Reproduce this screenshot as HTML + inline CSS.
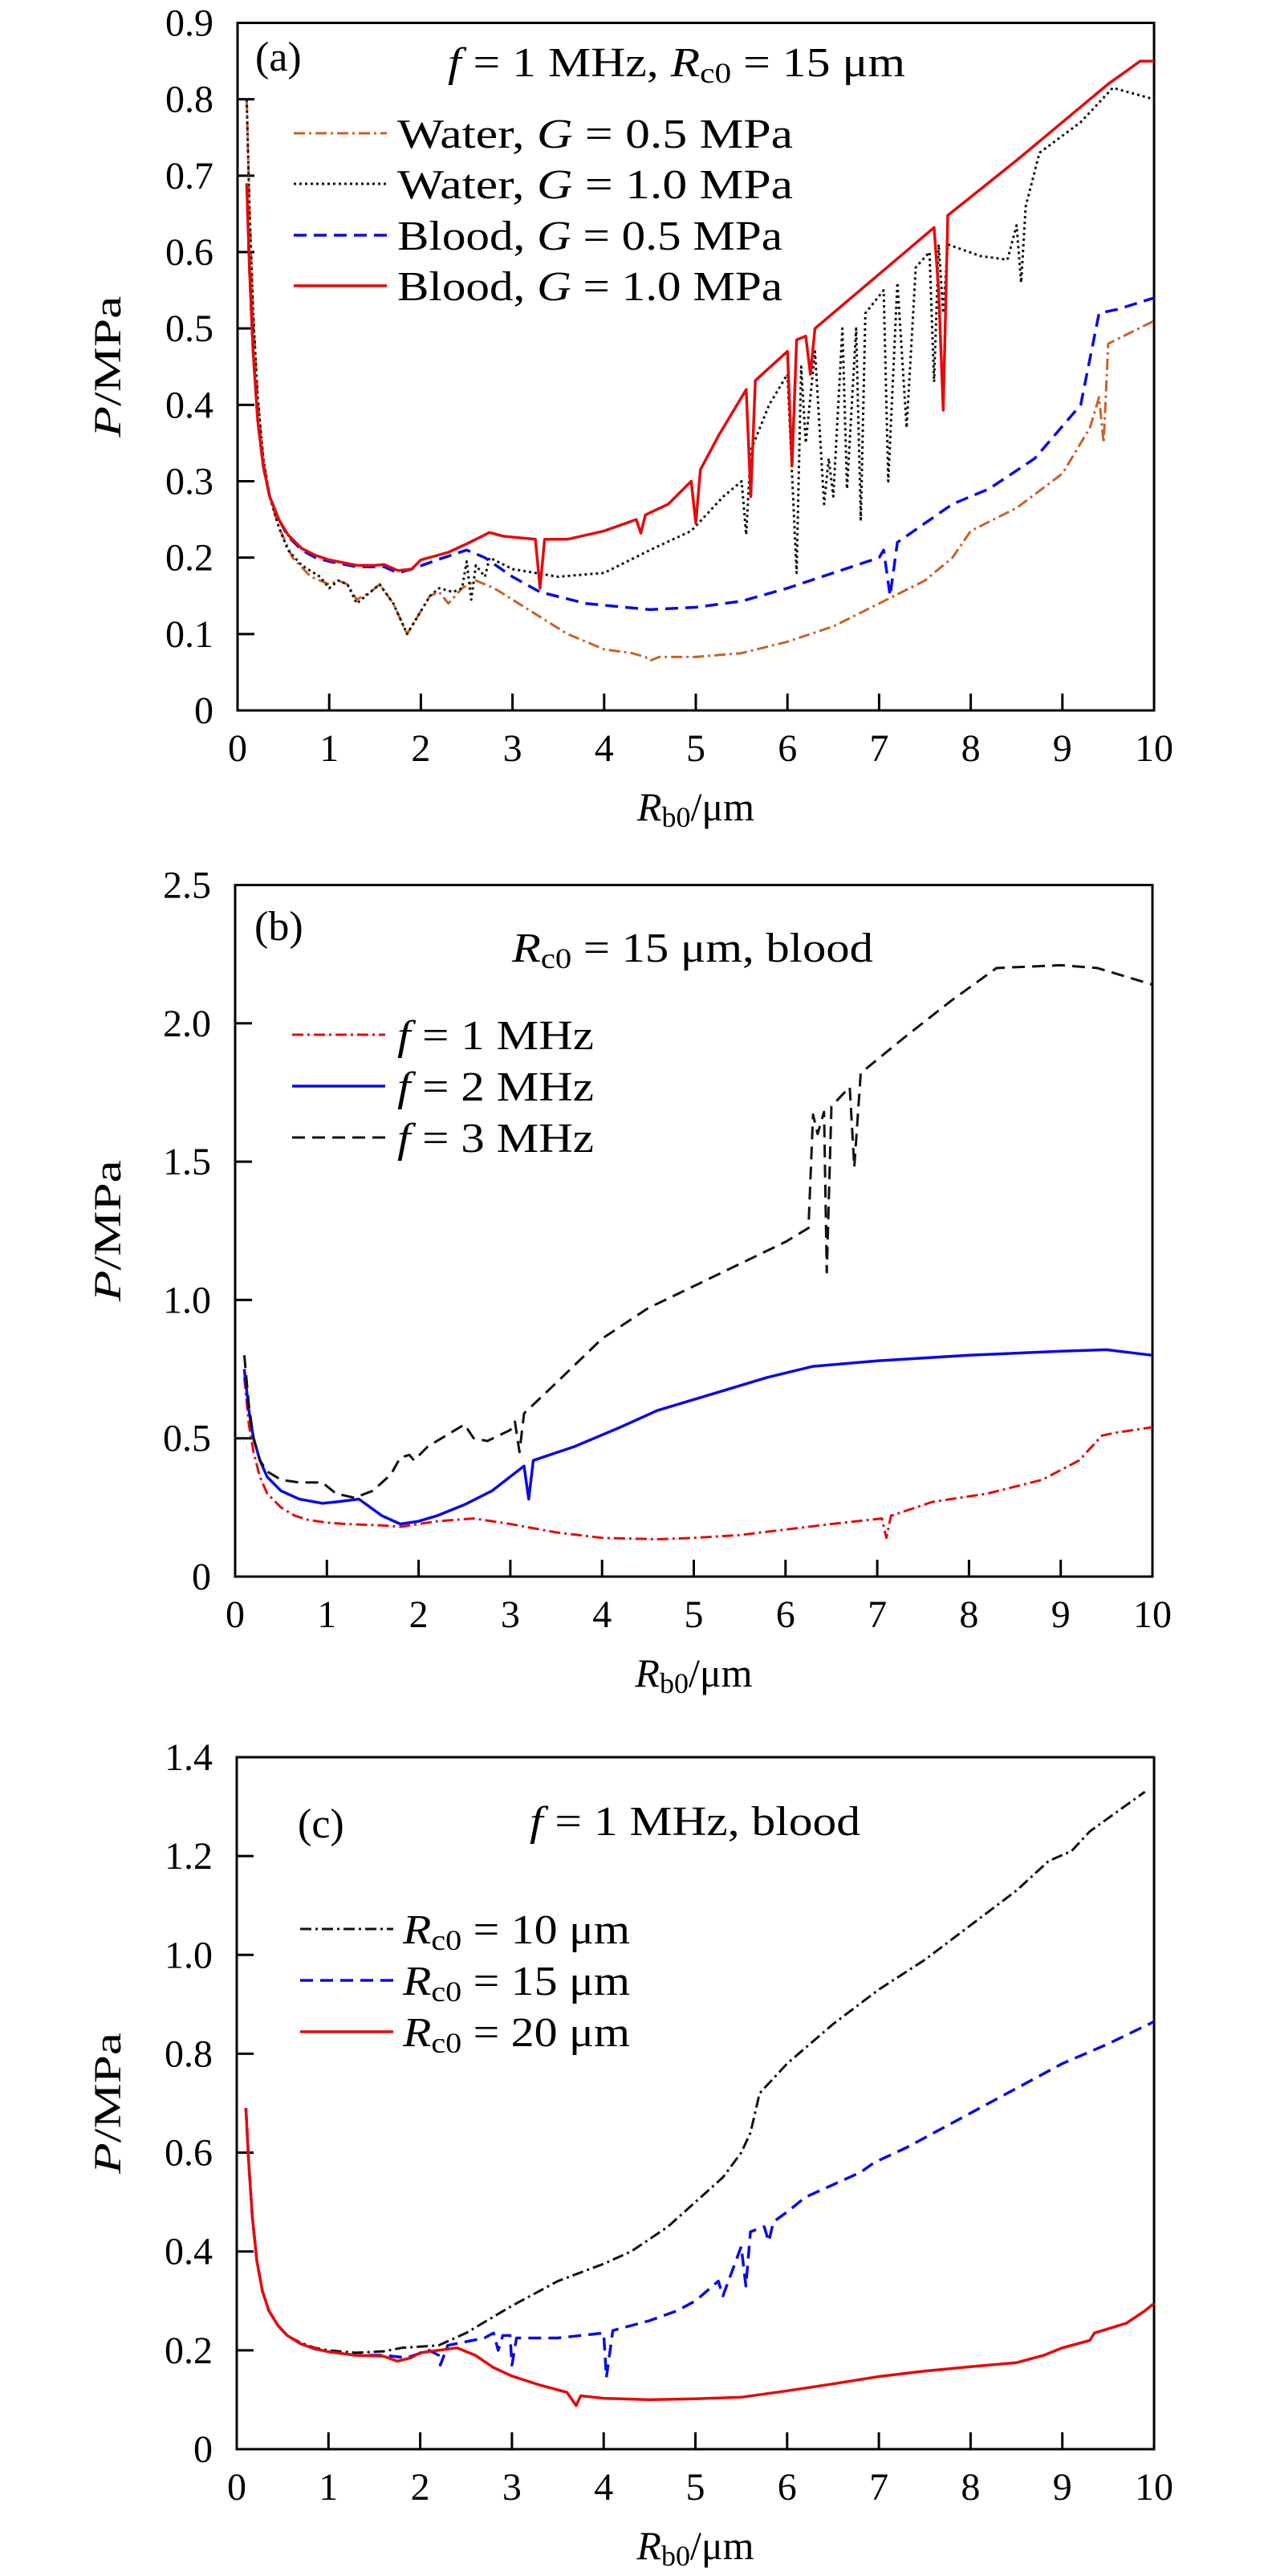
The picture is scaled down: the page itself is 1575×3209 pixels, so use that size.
<!DOCTYPE html>
<html><head><meta charset="utf-8"><style>
html,body{margin:0;padding:0;background:#fff}
svg{display:block}
text{font-family:"Liberation Serif",serif;fill:#000}
</style></head><body>
<svg id="fig" width="1575" height="3209" viewBox="0 0 1575 3209" xmlns="http://www.w3.org/2000/svg">
<rect width="1575" height="3209" fill="#fff"/>
<g id="pa"></g>
<g id="pb"></g>
<g id="pc"></g>
</svg>
<script>
// ---- shared tick data ----
const xTicks=[0,1,2,3,4,5,6,7,8,9,10];
// ---- panel (a) data ----
const aYTicks=[0,0.1,0.2,0.3,0.4,0.5,0.6,0.7,0.8,0.9];
const aYTickLabels=["0","0.1","0.2","0.3","0.4","0.5","0.6","0.7","0.8","0.9"];
const aWater05X=[0.1,0.13,0.17,0.22,0.28,0.35,0.45,0.6,0.8,1.0,1.1,1.2,1.3,1.45,1.55,1.7,1.85,1.95,2.1,2.2,2.3,2.45,2.6,2.8,3.2,3.6,4.0,4.3,4.45,4.5,4.6,5.0,5.5,6.0,6.5,7.0,7.5,7.8,8.0,8.5,9.0,9.3,9.4,9.45,9.5,10];
const aWater05Y=[0.8,0.66,0.52,0.41,0.33,0.28,0.24,0.2,0.175,0.165,0.17,0.165,0.145,0.155,0.165,0.14,0.1,0.12,0.15,0.155,0.14,0.16,0.17,0.16,0.13,0.1,0.08,0.075,0.07,0.065,0.07,0.07,0.075,0.09,0.11,0.14,0.17,0.2,0.235,0.265,0.31,0.37,0.41,0.35,0.48,0.51];
const aWater10X=[0.1,0.13,0.17,0.22,0.28,0.35,0.45,0.55,0.7,0.9,1.0,1.1,1.2,1.3,1.45,1.55,1.7,1.85,1.95,2.1,2.2,2.35,2.45,2.5,2.55,2.6,2.7,2.75,3.0,3.5,4.0,4.5,4.95,5.3,5.5,5.55,5.6,5.8,6.0,6.1,6.15,6.2,6.3,6.4,6.45,6.5,6.6,6.65,6.75,6.8,6.85,7.05,7.1,7.2,7.3,7.4,7.55,7.6,7.65,7.7,7.75,8.1,8.4,8.5,8.55,8.6,8.75,9.2,9.55,10];
const aWater10Y=[0.8,0.66,0.52,0.41,0.33,0.28,0.24,0.21,0.19,0.175,0.16,0.17,0.165,0.14,0.155,0.165,0.14,0.1,0.12,0.15,0.16,0.155,0.16,0.195,0.145,0.19,0.175,0.2,0.185,0.175,0.18,0.21,0.235,0.28,0.3,0.23,0.34,0.4,0.44,0.18,0.45,0.35,0.47,0.27,0.33,0.28,0.5,0.29,0.5,0.25,0.52,0.55,0.3,0.56,0.37,0.58,0.6,0.43,0.61,0.52,0.61,0.595,0.59,0.635,0.56,0.66,0.73,0.77,0.815,0.8];
const aBlood05X=[0.1,0.13,0.17,0.22,0.28,0.35,0.45,0.55,0.7,0.85,1.0,1.3,1.6,1.75,1.9,2.2,2.5,2.7,3.0,3.3,3.8,4.5,5.0,5.5,6.0,6.5,7.0,7.05,7.12,7.2,7.5,7.8,8.2,8.7,9.2,9.4,9.6,10];
const aBlood05Y=[0.69,0.58,0.47,0.38,0.32,0.28,0.25,0.228,0.21,0.2,0.195,0.188,0.188,0.18,0.185,0.198,0.21,0.2,0.175,0.155,0.14,0.132,0.135,0.143,0.16,0.18,0.2,0.21,0.15,0.22,0.245,0.27,0.29,0.33,0.4,0.52,0.525,0.54];
const aBlood10X=[0.1,0.13,0.17,0.22,0.28,0.35,0.45,0.55,0.7,0.85,1.0,1.3,1.5,1.6,1.75,1.9,2.0,2.3,2.5,2.75,2.9,3.25,3.3,3.35,3.6,4.0,4.35,4.4,4.45,4.7,4.95,5.0,5.05,5.25,5.55,5.6,5.65,6.0,6.05,6.1,6.2,6.25,6.3,7.6,7.65,7.7,7.75,8.5,9.0,9.5,9.85,10];
const aBlood10Y=[0.69,0.58,0.47,0.38,0.32,0.28,0.25,0.23,0.212,0.203,0.197,0.19,0.19,0.191,0.183,0.185,0.197,0.207,0.218,0.233,0.228,0.224,0.16,0.224,0.224,0.235,0.25,0.232,0.256,0.27,0.3,0.245,0.315,0.36,0.42,0.28,0.432,0.47,0.32,0.485,0.49,0.44,0.5,0.632,0.55,0.393,0.648,0.72,0.77,0.82,0.85,0.85];
// ---- panel (b) data ----
const bYTicks=[0,0.5,1.0,1.5,2.0,2.5];
const bYTickLabels=["0","0.5","1.0","1.5","2.0","2.5"];
const bF1X=[0.1,0.15,0.2,0.27,0.35,0.5,0.65,0.8,1.0,1.2,1.6,1.8,2.2,2.6,3.0,3.5,4.0,4.6,5.0,5.5,6.0,6.5,7.05,7.1,7.15,7.6,8.2,8.8,9.2,9.45,9.6,10];
const bF1Y=[0.72,0.55,0.45,0.36,0.3,0.25,0.22,0.205,0.195,0.19,0.185,0.18,0.2,0.21,0.19,0.16,0.14,0.135,0.14,0.15,0.17,0.19,0.21,0.14,0.22,0.27,0.3,0.35,0.42,0.51,0.52,0.54];
const bF2X=[0.1,0.15,0.2,0.27,0.35,0.5,0.7,0.95,1.1,1.35,1.6,1.8,2.0,2.2,2.5,2.8,3.15,3.2,3.25,3.7,4.2,4.6,5.2,5.8,6.3,7.0,8.0,9.0,9.5,10];
const bF2Y=[0.75,0.6,0.5,0.42,0.36,0.31,0.28,0.265,0.27,0.28,0.22,0.19,0.2,0.22,0.26,0.31,0.4,0.28,0.42,0.47,0.54,0.6,0.66,0.72,0.76,0.78,0.8,0.815,0.82,0.8];
const bF3X=[0.1,0.15,0.2,0.27,0.35,0.5,0.7,0.95,1.1,1.3,1.5,1.7,1.8,1.9,1.95,2.1,2.5,2.6,2.75,3.0,3.05,3.1,3.15,3.5,4.0,4.5,5.0,5.5,6.0,6.25,6.3,6.35,6.42,6.45,6.5,6.7,6.75,6.82,7.3,7.8,8.3,9.0,9.4,10];
const bF3Y=[0.8,0.62,0.5,0.42,0.38,0.35,0.34,0.34,0.3,0.285,0.31,0.37,0.43,0.44,0.42,0.47,0.55,0.5,0.49,0.53,0.56,0.45,0.59,0.7,0.86,0.97,1.05,1.13,1.21,1.26,1.67,1.6,1.68,1.1,1.7,1.77,1.48,1.82,1.95,2.08,2.2,2.21,2.2,2.14];
// ---- panel (c) data ----
const cYTicks=[0,0.2,0.4,0.6,0.8,1.0,1.2,1.4];
const cYTickLabels=["0","0.2","0.4","0.6","0.8","1.0","1.2","1.4"];
const cR10X=[0.1,0.13,0.17,0.22,0.28,0.35,0.45,0.55,0.7,0.85,1.0,1.3,1.6,1.8,2.2,2.5,3.0,3.5,4.0,4.3,4.7,5.0,5.3,5.5,5.6,5.7,6.0,6.5,7.0,7.5,8.0,8.5,8.85,9.1,9.3,9.6,9.9];
const cR10Y=[0.69,0.58,0.47,0.38,0.32,0.28,0.25,0.23,0.215,0.205,0.2,0.195,0.198,0.205,0.21,0.235,0.29,0.34,0.375,0.4,0.45,0.5,0.55,0.6,0.64,0.72,0.78,0.86,0.93,0.99,1.06,1.13,1.19,1.21,1.25,1.29,1.33];
const cR15X=[0.1,0.13,0.17,0.22,0.28,0.35,0.45,0.55,0.7,0.85,1.0,1.3,1.6,1.85,2.1,2.2,2.22,2.3,2.7,2.8,2.85,2.9,2.98,3.0,3.05,3.5,4.0,4.03,4.1,4.5,4.8,5.0,5.25,5.3,5.5,5.55,5.6,5.75,5.8,5.85,6.0,6.2,6.8,6.95,7.3,8.0,8.5,9.0,9.5,10];
const cR15Y=[0.69,0.58,0.47,0.38,0.32,0.28,0.25,0.23,0.213,0.203,0.197,0.19,0.19,0.185,0.2,0.19,0.17,0.21,0.225,0.235,0.2,0.23,0.23,0.17,0.225,0.225,0.235,0.145,0.24,0.26,0.28,0.3,0.34,0.31,0.41,0.33,0.44,0.45,0.42,0.46,0.48,0.51,0.56,0.58,0.61,0.68,0.73,0.78,0.82,0.865];
const cR20X=[0.1,0.13,0.17,0.22,0.28,0.35,0.45,0.55,0.7,0.85,1.0,1.3,1.6,1.75,1.9,2.0,2.4,2.6,2.8,3.0,3.3,3.6,3.7,3.75,4.0,4.5,5.0,5.5,6.0,6.5,7.0,7.5,8.0,8.5,8.8,9.0,9.3,9.35,9.7,9.9,10];
const cR20Y=[0.69,0.58,0.47,0.38,0.32,0.28,0.25,0.23,0.213,0.203,0.197,0.19,0.188,0.178,0.185,0.195,0.205,0.19,0.165,0.148,0.13,0.115,0.088,0.108,0.103,0.1,0.102,0.105,0.118,0.132,0.147,0.158,0.167,0.175,0.19,0.205,0.22,0.235,0.255,0.28,0.295];

const NS="http://www.w3.org/2000/svg";
function mk(parent,tag,attrs,txt){const e=document.createElementNS(NS,tag);for(const k in attrs)e.setAttribute(k,attrs[k]);if(txt!==undefined)e.textContent=txt;parent.appendChild(e);return e;}

function panel(g,box,ymax,yTicks,yLabels){
  const sx=v=>box.l+(box.r-box.l)*v/10;
  const sy=v=>box.b-(box.b-box.t)*v/ymax;
  const frame=mk(g,'rect',{x:box.l,y:box.t,width:box.r-box.l,height:box.b-box.t,fill:'none',stroke:'#000','stroke-width':3});
  
  
  xTicks.forEach(v=>{
    if(v>0&&v<10){const t=mk(g,'line',{x1:sx(v),x2:sx(v),y1:box.b,y2:box.b-21,stroke:'#000','stroke-width':3});
    
    }
    const lb=mk(g,'text',{x:sx(v),y:box.b+63,'text-anchor':'middle','font-size':48},String(v));
    
    
  });
  yTicks.forEach((v,i)=>{
    if(v>0&&v<ymax){const t=mk(g,'line',{x1:box.l,x2:box.l+21,y1:sy(v),y2:sy(v),stroke:'#000','stroke-width':3});
    
    }
    const lb=mk(g,'text',{x:box.l-30,y:sy(v)+16,'text-anchor':'end','font-size':48},yLabels[i]);
    
    
  });
  const xl=mk(g,'text',{x:(box.l+box.r)/2,y:box.b+137,'text-anchor':'middle','font-size':50});
  
  
  xl.innerHTML='<tspan font-style="italic">R</tspan><tspan font-size="36" dy="8">b0</tspan><tspan dy="-8">/μm</tspan>';
  const yl=mk(g,'text',{x:0,y:0,'text-anchor':'middle','font-size':48,textLength:176,lengthAdjust:'spacingAndGlyphs',transform:`translate(150 ${(box.t+box.b)/2}) rotate(-90)`});
  
  
  yl.innerHTML='<tspan font-style="italic">P</tspan>/MPa';
  return {sx,sy};
}
function series(g,ax,xs,ys,color,dash,w,name){
  const d=xs.map((x,i)=>(i?'L':'M')+ax.sx(x).toFixed(1)+' '+ax.sy(ys[i]).toFixed(1)).join(' ');
  const p=mk(g,'path',{d:d,fill:'none',stroke:color,'stroke-width':w,'stroke-dasharray':dash,'stroke-linejoin':'round'});
  
  
}
function legend(g,x1,x2,y,color,dash,w,html,tx,len,name){
  const l=mk(g,'line',{x1:x1,x2:x2,y1:y,y2:y,stroke:color,'stroke-width':w,'stroke-dasharray':dash});
  
  
  const t=mk(g,'text',{x:tx,y:y+18,'font-size':52,textLength:len,lengthAdjust:'spacingAndGlyphs'});
  
  
  t.innerHTML=html;
}
function label(g,x,y,html,name,len){
  const a={x:x,y:y,'font-size':52};
  if(len){a.textLength=len;a.lengthAdjust='spacingAndGlyphs';}
  const t=mk(g,'text',a);
  
  
  t.innerHTML=html;
}
const OR='#cc6026',BL='#0a0ae6',RD='#e60a0a',BK='#111';
const DD='14 5 3 5',DOT='3 4',DASH='16 9';
const sub=s=>`<tspan font-size="36" dy="8">${s}</tspan><tspan dy="-8">`;
// Panel a
const ga=document.getElementById('pa');
const ax=panel(ga,{l:296,r:1438,t:28.5,b:885},0.9,aYTicks,aYTickLabels);
series(ga,ax,aWater05X,aWater05Y,OR,DD,3,'series-water-g05');
series(ga,ax,aWater10X,aWater10Y,BK,DOT,3,'series-water-g10');
series(ga,ax,aBlood05X,aBlood05Y,BL,DASH,3.5,'series-blood-g05');
series(ga,ax,aBlood10X,aBlood10Y,RD,'',3.5,'series-blood-g10');
label(ga,318,88,'(a)','panel-label-a');
label(ga,558,95,'<tspan font-style="italic">f</tspan> = 1 MHz, <tspan font-style="italic">R</tspan>'+sub('c0')+' = 15 μm</tspan>','title-a',570);
legend(ga,366,482,166,OR,DD,3,'Water, <tspan font-style="italic">G</tspan> = 0.5 MPa',495,493,'legend-water-g05');
legend(ga,366,482,229,BK,DOT,3,'Water, <tspan font-style="italic">G</tspan> = 1.0 MPa',495,493,'legend-water-g10');
legend(ga,366,482,293,BL,DASH,3.5,'Blood, <tspan font-style="italic">G</tspan> = 0.5 MPa',495,480,'legend-blood-g05');
legend(ga,366,482,356,RD,'',3.5,'Blood, <tspan font-style="italic">G</tspan> = 1.0 MPa',495,480,'legend-blood-g10');
// Panel b
const gb=document.getElementById('pb');
const bx=panel(gb,{l:293,r:1436,t:1102.5,b:1964},2.5,bYTicks,bYTickLabels);
series(gb,bx,bF1X,bF1Y,RD,DD,3,'series-f1');
series(gb,bx,bF2X,bF2Y,BL,'',3.5,'series-f2');
series(gb,bx,bF3X,bF3Y,BK,DASH,3,'series-f3');
label(gb,317,1171,'(b)','panel-label-b');
label(gb,638,1198,'<tspan font-style="italic">R</tspan>'+sub('c0')+' = 15 μm, blood</tspan>','title-b',450);
legend(gb,364,480,1289,RD,DD,3,'<tspan font-style="italic">f</tspan> = 1 MHz',495,245,'legend-f1');
legend(gb,364,480,1353,BL,'',3.5,'<tspan font-style="italic">f</tspan> = 2 MHz',495,245,'legend-f2');
legend(gb,364,480,1417,BK,DASH,3,'<tspan font-style="italic">f</tspan> = 3 MHz',495,245,'legend-f3');
// Panel c
const gc=document.getElementById('pc');
const cx=panel(gc,{l:295,r:1438,t:2189,b:3051},1.4,cYTicks,cYTickLabels);
series(gc,cx,cR10X,cR10Y,BK,DD,3,'series-rc10');
series(gc,cx,cR15X,cR15Y,BL,DASH,3.5,'series-rc15');
series(gc,cx,cR20X,cR20Y,RD,'',3.5,'series-rc20');
label(gc,371,2289,'(c)','panel-label-c');
label(gc,660,2286,'<tspan font-style="italic">f</tspan> = 1 MHz, blood','title-c',412);
legend(gc,374,490,2403,BK,DD,3,'<tspan font-style="italic">R</tspan>'+sub('c0')+' = 10 μm</tspan>',502,283,'legend-rc10');
legend(gc,374,490,2467,BL,DASH,3.5,'<tspan font-style="italic">R</tspan>'+sub('c0')+' = 15 μm</tspan>',502,283,'legend-rc15');
legend(gc,374,490,2531,RD,'',3.5,'<tspan font-style="italic">R</tspan>'+sub('c0')+' = 20 μm</tspan>',502,283,'legend-rc20');
</script>
</body></html>
